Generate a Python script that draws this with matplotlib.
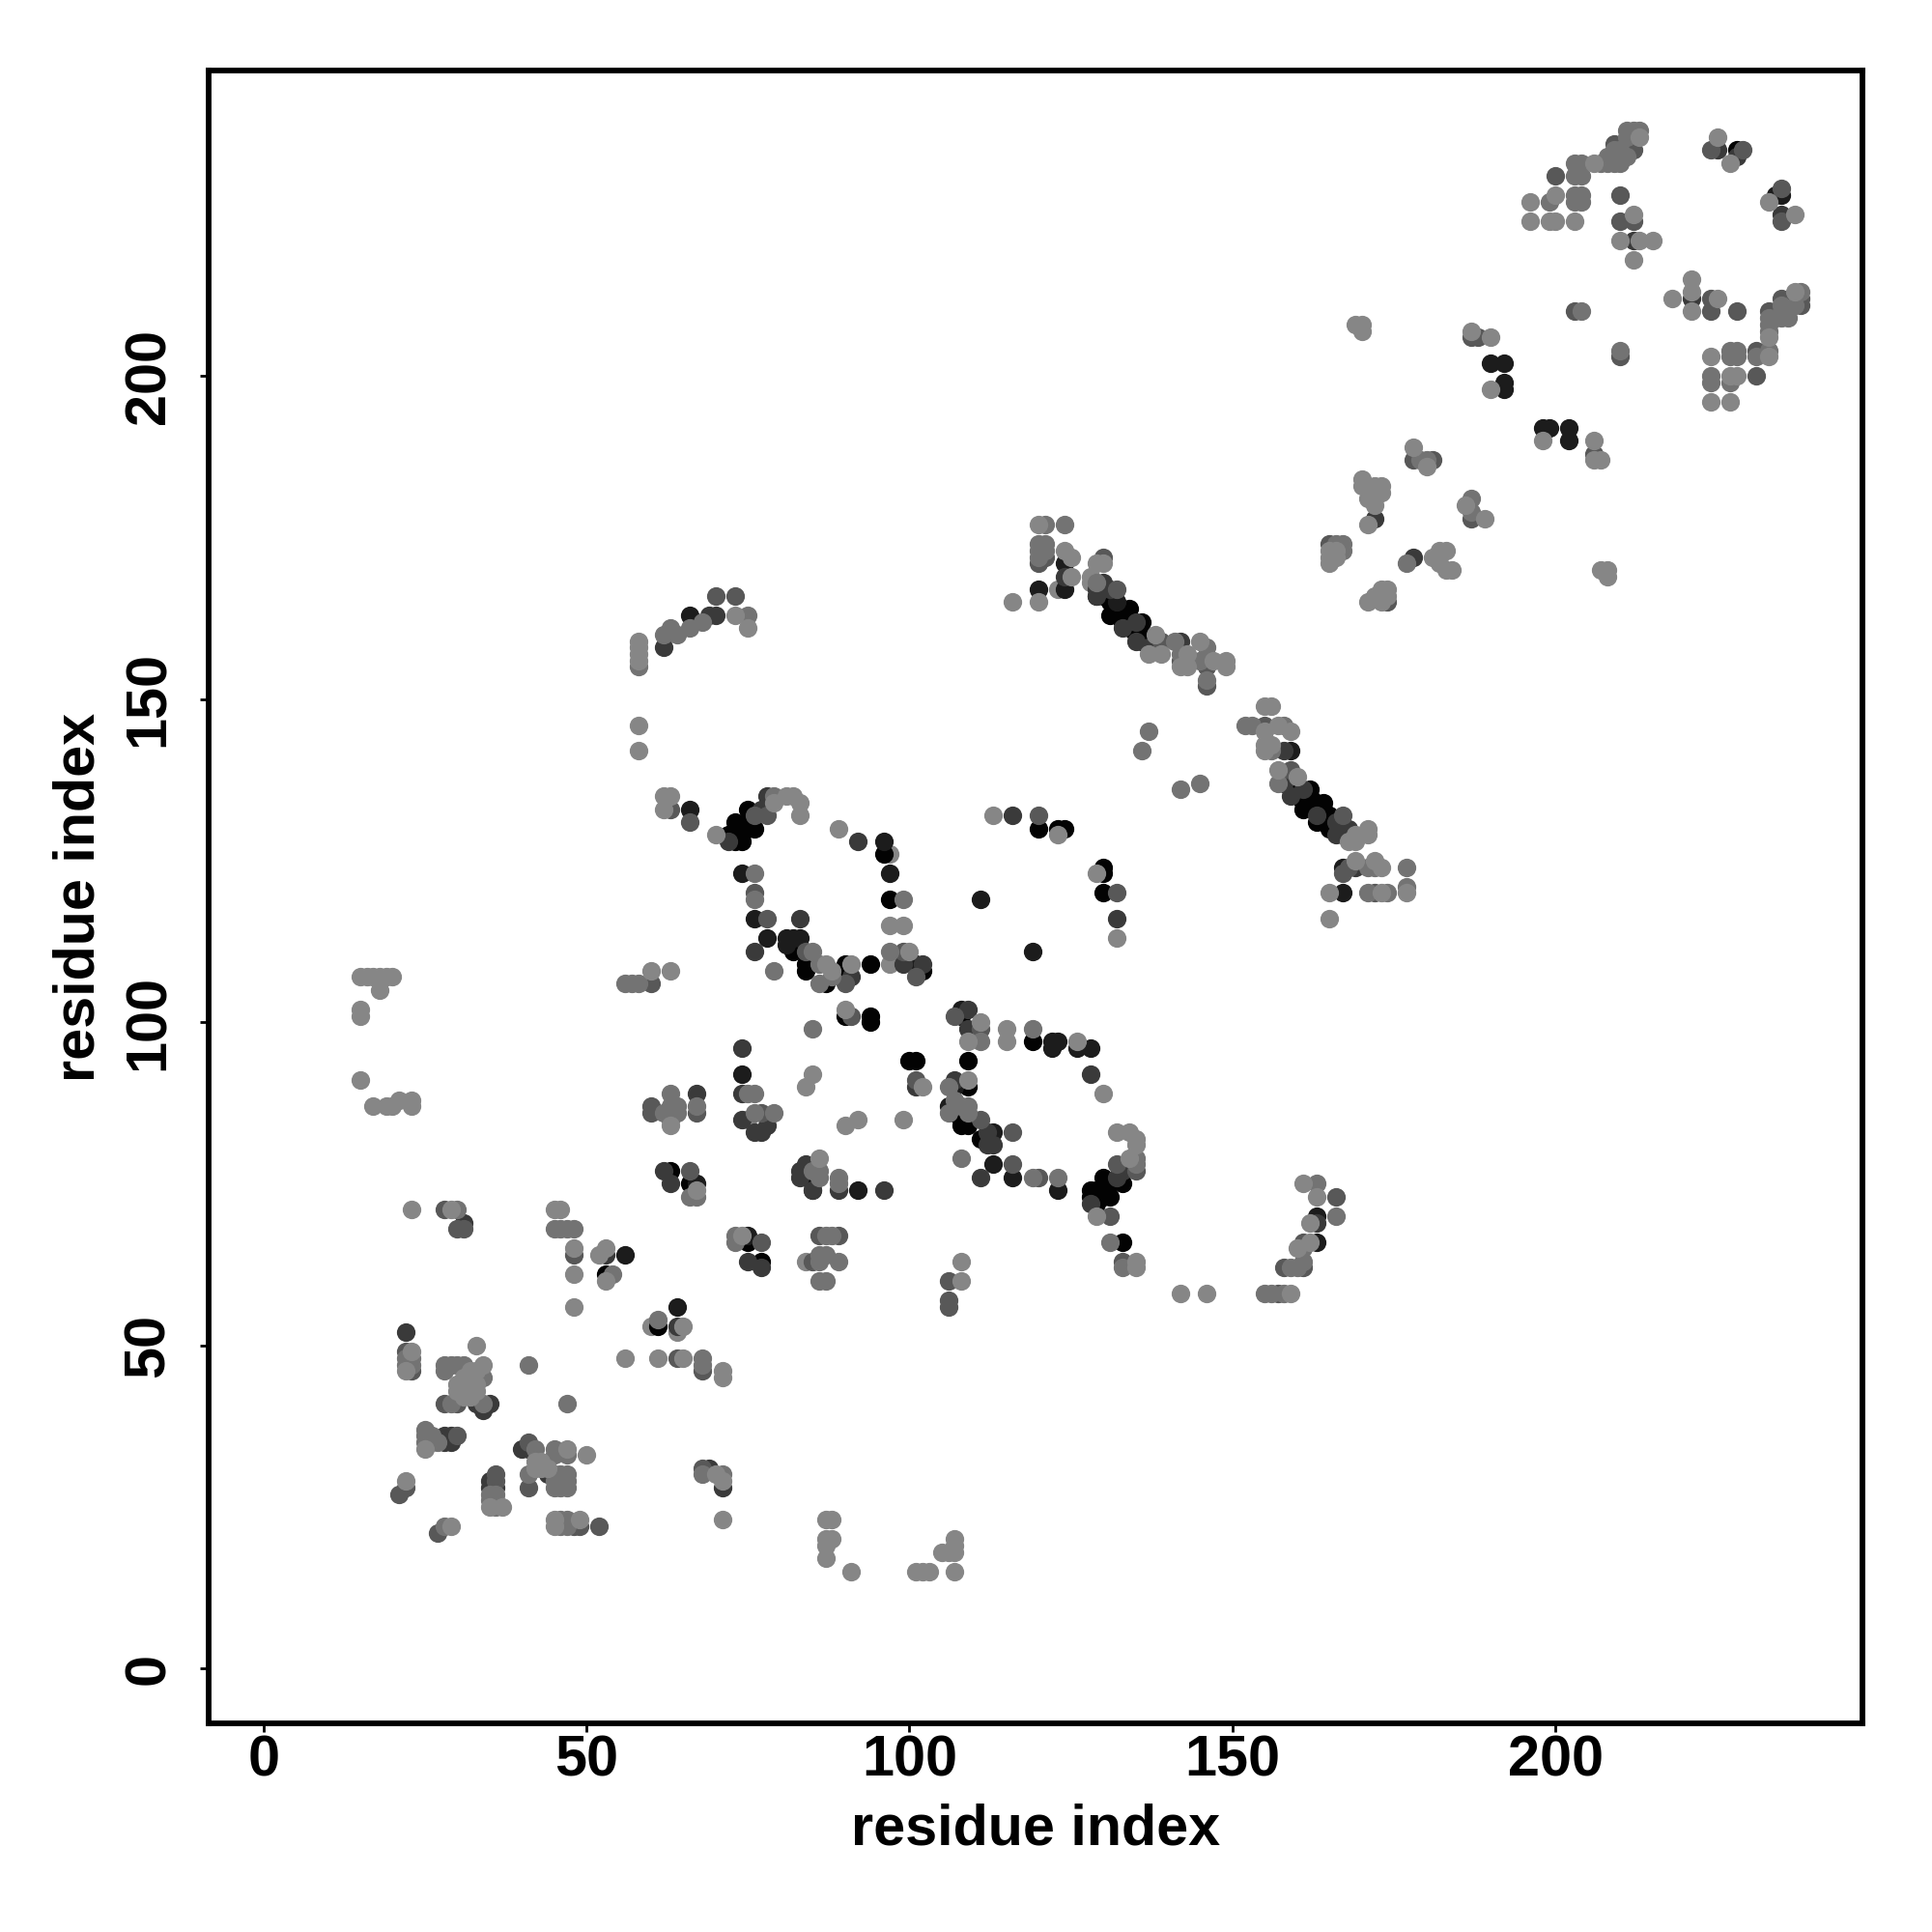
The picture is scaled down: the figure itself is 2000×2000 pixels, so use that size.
import matplotlib
matplotlib.use("Agg")
import matplotlib.pyplot as plt

## contacts (x residue, y residue), split by how dark the dot looks
black = [(63,77),(66,75),(85,75),(75,66),(77,63),(61,53),(53,61),(73,128),(74,128),(73,130),(73,131),(72,129),(74,129),
    (75,133),(76,130),(75,131),(96,126),(97,119),(82,111),(84,109),(84,108),(87,106),(90,109),(90,108),(94,109),(102,108),
    (90,101),(94,101),(94,100),(100,94),(101,94),(109,94),(119,97),(108,101),(109,90),(107,86),(108,85),(108,84),(109,84),
    (111,82),(120,130),(123,130),(124,130),(130,124),(130,123),(130,120),(130,76),(131,75),(133,75),(128,74),(129,74),
    (130,73),(131,73),(128,73),(129,72),(133,66),(129,166),(130,166),(131,165),(134,164),(131,163),(133,164),(133,162),
    (136,162),(136,159),(159,136),(162,136),(161,133),(164,134),(165,132),(163,131),(165,130),(228,235),
    (130,167),(131,166),(132,164),(132,163),(134,161),(134,162),(135,161),(135,160),(136,160),(137,159),
    (160,135),(161,134),(162,135),(163,133),(163,134),(164,131),(164,133),(165,131),(166,130),(167,129),(167,130)]
very_dark = [(56,64),(67,75),(75,67),(74,92),(66,133),(96,128),(97,123),(74,123),(76,116),(78,113),(81,113),(82,113),
    (83,113),(81,112),(101,109),(108,102),(107,90),(106,87),(113,83),(123,97),(126,96),(128,96),(113,78),(116,76),(123,74),
    (111,119),(119,111),(120,167),(124,167),(124,171),(132,165),(159,142),(167,124),(167,120),(163,70),(163,66),
    (66,163),(64,56),(198,192),(199,192),(202,192),(202,190),(190,202),(192,202),(192,199),(192,198),(234,228),(235,228),
    (122,96),(92,74),(122,97)]
dark = [(31,69),(28,36),(29,36),(28,35),(29,35),(35,29),(36,28),(35,28),(34,40),(35,41),(33,41),(44,30),(53,64),(62,77),
    (63,75),(83,77),(84,78),(83,76),(85,74),(75,63),(77,62),(64,53),(40,34),(41,34),(71,28),(69,31),(72,128),(77,133),
    (78,135),(92,128),(83,116),(76,111),(99,109),(102,109),(91,107),(74,96),(74,89),(67,89),(74,85),(78,84),(76,83),(77,83),
    (101,90),(107,91),(109,102),(109,99),(112,81),(113,81),(112,83),(128,92),(111,76),(89,74),(96,74),(85,74),(132,116),
    (132,76),(133,77),(128,72),(129,167),(129,166),(131,167),(133,161),(135,162),(135,159),(137,158),(142,159),(130,168),
    (124,169),(158,142),(159,135),(161,136),(163,132),(166,131),(168,130),(166,129),(169,124),(158,137),(172,178),(178,172),
    (225,235),(228,234),(235,225),(221,212),(212,221),(70,163),(69,163),(62,158),(22,52),(116,132),(163,69)]
dark_mid = [(31,68),(30,68),(28,71),(22,49),(28,41),(30,41),(30,36),(41,35),(36,30),(36,29),(21,27),(27,21),(22,28),(41,28),
    (48,64),(52,22),(48,22),(49,22),(68,31),(68,46),(64,48),(66,77),(77,66),(85,63),(89,67),(86,67),(60,106),(63,133),(66,131),
    (76,132),(78,132),(76,120),(78,116),(84,111),(99,111),(101,107),(90,106),(91,101),(107,101),(111,99),(101,91),(111,85),
    (116,83),(116,78),(120,76),(67,86),(60,87),(60,86),(77,86),(63,85),(120,132),(132,120),(135,77),(132,78),(131,70),
    (133,63),(161,62),(161,66),(158,62),(157,58),(166,73),(139,159),(142,156),(146,155),(146,152),(130,172),(120,171),(121,172),
    (132,167),(155,146),(159,139),(167,132),(168,124),(167,123),(172,120),(165,174),(174,165),(187,178),(178,187),(181,187),
    (188,206),(206,188),(224,235),(229,235),(235,229),(235,224),(224,212),(224,210),(228,210),(210,228),(210,224),(212,224),
    (233,210),(234,210),(235,212),(238,212),(238,211),(231,204),(231,200),(210,203),(203,210),(200,231),(209,236),(212,235),
    (106,60),(70,166),(73,166),(187,206),(106,57),(106,56),(23,46)]
mid = [(30,71),(45,68),(46,68),(47,68),(48,68),(28,47),(29,47),(30,47),(31,47),(28,46),(22,48),(23,48),(22,47),(23,47),(29,41),
    (34,41),(34,45),(25,37),(25,36),(26,36),(25,35),(26,35),(27,35),(35,27),(36,27),(35,26),(36,26),(36,25),(42,34),(45,34),(45,33),
    (47,33),(41,30),(45,30),(46,30),(47,30),(45,29),(46,29),(47,29),(45,28),(46,28),(47,28),(46,23),(47,23),(46,22),(47,22),(68,30),
    (71,30),(28,22),(54,61),(41,47),(61,54),(47,41),(68,48),(68,47),(73,67),(73,66),(86,77),(85,77),(86,76),(66,73),(67,73),(87,64),
    (86,63),(86,60),(87,60),(89,63),(86,64),(87,67),(88,67),(56,106),(57,106),(58,106),(76,123),(76,119),(79,135),(85,111),
    (86,109),(79,108),(88,107),(86,106),(97,111),(99,119),(85,99),(75,89),(76,89),(63,89),(67,87),(63,87),(64,87),(62,86),(63,86),
    (64,86),(76,86),(79,86),(108,79),(119,99),(111,97),(106,86),(107,88),(108,87),(109,87),(109,86),(106,90),(89,76),(89,75),(123,76),
    (119,76),(131,66),(133,62),(135,79),(135,78),(163,75),(161,65),(159,62),(160,62),(155,58),(156,58),(158,58),(161,63),(166,70),
    (121,177),(124,177),(129,168),(146,158),(145,156),(141,159),(142,157),(146,153),(136,142),(137,145),(142,136),(145,137),(152,146),
    (153,146),(158,146),(156,142),(157,137),(177,124),(171,124),(172,124),(171,120),(174,120),(177,121),(166,174),(167,174),(167,173),
    (177,171),(179,187),(180,187),(187,181),(187,179),(199,227),(203,227),(204,227),(203,228),(204,228),(203,231),(204,231),
    (203,233),(204,233),(207,233),(208,233),(209,233),(210,233),(208,234),(209,235),(210,235),(211,234),(211,238),(212,238),(213,238),
    (211,237),(233,209),(233,208),(233,207),(234,209),(235,211),(236,210),(236,209),(237,211),(235,209),(238,213),(204,210),(210,204),
    (227,204),(228,204),(233,204),(227,203),(228,203),(231,203),(224,199),(227,199),(224,200),(62,160),(64,160),(68,162),(66,161),
    (75,163),(63,161),(58,155),(120,174),(120,173),(120,172),(121,174),(121,173)]
light = [(23,71),(29,71),(45,71),(46,71),(48,65),(48,61),(48,56),(52,64),(53,65),(53,60),(67,74),(84,63),(86,79),(74,67),(60,53),
    (64,52),(65,53),(56,48),(61,48),(65,48),(71,46),(71,45),(23,49),(22,46),(33,50),(34,47),(30,44),(31,44),(32,44),(33,44),(30,43),
    (31,43),(32,43),(33,43),(31,42),(32,42),(32,46),(33,46),(31,45),(32,45),(25,34),(47,34),(50,33),(42,32),(43,32),(42,31),(43,31),
    (44,31),(70,30),(71,29),(37,25),(35,25),(22,29),(29,22),(45,23),(49,23),(45,22),(71,23),(87,23),(88,23),(87,20),(88,20),(87,19),
    (87,17),(91,15),(101,15),(102,15),(103,15),(105,18),(106,18),(107,20),(107,19),(107,18),(107,15),(15,107),(16,107),(17,107),(18,107),
    (19,107),(20,107),(18,105),(15,102),(15,101),(15,91),(17,87),(19,87),(20,87),(21,88),(23,88),(23,87),(60,108),(63,108),(62,135),
    (63,135),(62,133),(70,129),(81,135),(82,135),(83,134),(83,132),(79,134),(89,130),(97,126),(97,115),(99,115),(100,111),
    (97,109),(87,109),(88,108),(91,109),(90,102),(85,92),(84,90),(63,84),(75,85),(90,84),(92,85),(99,85),(102,90),(109,91),(111,100),
    (109,97),(115,99),(115,97),(126,97),(130,89),(108,63),(108,60),(113,132),(123,129),(129,123),(132,113),(132,83),(134,83),(135,82),
    (135,81),(134,79),(129,70),(135,63),(135,62),(142,58),(146,58),(161,75),(163,73),(162,69),(160,65),(162,66),(159,58),(120,177),
    (124,173),(125,172),(125,169),(123,167),(120,165),(116,165),(129,171),(130,171),(128,169),(128,168),(138,160),(137,157),(139,157),
    (143,157),(142,155),(143,155),(145,159),(147,156),(149,156),(149,155),(155,149),(156,149),(157,146),(159,145),(155,145),(155,143),
    (156,143),(155,142),(157,139),(160,138),(169,129),(171,130),(171,129),(168,128),(169,128),(169,125),(172,125),(173,124),(165,120),
    (173,120),(177,120),(165,116),(165,173),(166,173),(165,172),(166,172),(165,171),(172,180),(171,177),(181,172),(182,173),(183,173),
    (182,171),(183,170),(184,170),(171,165),(172,166),(173,167),(174,167),(173,165),(174,166),(196,227),(196,224),(200,228),(199,224),
    (200,224),(203,224),(206,233),(213,237),(212,225),(210,221),(213,221),(215,221),(212,218),(225,237),(227,233),(233,227),(237,225),
    (221,215),(218,212),(221,213),(221,210),(225,212),(233,206),(237,213),(224,203),(233,203),(228,200),(227,200),(224,196),(227,196),
    (198,190),(206,190),(207,187),(206,187),(190,198),(187,207),(190,206),(169,208),(170,208),(170,207),(178,189),(180,186),(170,184),
    (170,183),(172,183),(173,183),(172,182),(173,182),(171,181),(172,181),(186,180),(189,178),(207,170),(208,170),(208,169),
    (58,159),(58,158),(58,157),(58,156),(58,146),(58,142),(73,163),(75,161)]

# pale dots get drawn first where the darker ones sit on top of them
light_first = [p for p in light if p in [(128,168),(128,169),(60,53),(84,63),(64,52),(75,85),(97,109),(97,126),(123,167)]]
light_top = [p for p in light if p not in light_first]

groups = [(light_first, "#868686"), (black, "#030303"), (very_dark, "#1c1c1c"), (dark, "#3a3a3a"),
          (dark_mid, "#585858"), (mid, "#737373"), (light_top, "#868686")]

ticks = [0, 50, 100, 150, 200]

plt.rcParams['font.family'] = ['Liberation Sans', 'DejaVu Sans']
plt.rcParams['font.weight'] = 'bold'

fig = plt.figure(figsize=(10, 10), dpi=200)
ax = fig.add_axes([0.108, 0.108, 0.856, 0.8555])

for pts, col in groups:
    ax.scatter([p[0] for p in pts], [p[1] for p in pts], s=48, color=col, linewidths=0)

ax.set_xlim(-8.47, 247.5)
ax.set_ylim(-8.5, 247.3)
ax.set_xticks(ticks)
ax.set_yticks(ticks)
ax.tick_params(axis='both', length=3.2, width=1.0, labelsize=21.4)
ax.tick_params(axis='x', pad=1)
ax.tick_params(axis='y', pad=9)
for lab in ax.get_yticklabels():
    lab.set_rotation(90)
    lab.set_va('center')
for sp in ax.spines.values():
    sp.set_linewidth(2.1)
ax.set_xlabel("residue index", fontsize=21.4, fontweight='bold', labelpad=5.8)
ax.set_ylabel("residue index", fontsize=21.4, fontweight='bold', labelpad=6.3)

fig.savefig("out.png", dpi=200)
